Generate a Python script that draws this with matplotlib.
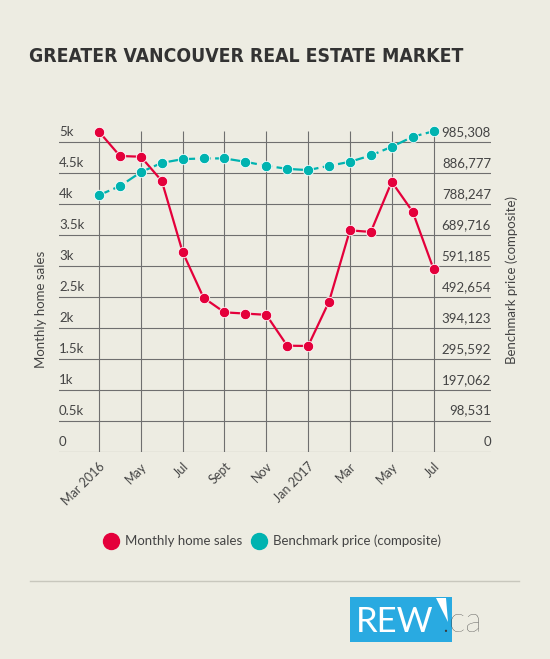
import matplotlib.pyplot as plt
import numpy as np
from matplotlib.lines import Line2D
from matplotlib.patches import Rectangle, Polygon

# data
months = ["Mar 2016", "Apr", "May", "Jun", "Jul", "Aug", "Sept", "Oct", "Nov", "Dec",
          "Jan 2017", "Feb", "Mar", "Apr", "May", "Jun", "Jul"]
sales = [5173, 4781, 4769, 4378, 3226, 2489, 2253, 2233, 2213, 1714,
         1709, 2425, 3579, 3553, 4364, 3882, 2955]
price = [817500, 846200, 890700, 920300, 932100, 934400, 934400, 923600, 910900, 901200,
         897100, 910900, 923600, 943900, 971400, 1003200, 1021100]
sales_ticks = [0, 500, 1000, 1500, 2000, 2500, 3000, 3500, 4000, 4500, 5000]
sales_labels = ["0", "0.5k", "1k", "1.5k", "2k", "2.5k", "3k", "3.5k", "4k", "4.5k", "5k"]
price_top = 985308.3

BG = "#edece2"
RED = "#e4003b"
TEAL = "#00b3b0"
GRID = "#6f6f6f"
TXT = "#444444"
FONT = ["Lato", "DejaVu Sans"]

plt.rcParams['font.family'] = FONT

W, H = 550, 659
fig = plt.figure(figsize=(W / 100, H / 100), dpi=100, facecolor=BG)

def fx(px):
    return px / W

def fy(py):
    return 1 - py / H

ax = fig.add_axes([fx(59), fy(451.7), fx(491) - fx(59), fy(131) - fy(451.7)])
ax.set_facecolor(BG)
for s in ax.spines.values():
    s.set_visible(False)

x = np.arange(len(months))
ytop = 5185
ax.set_xlim(-1.916, 18.75)
ax.set_ylim(0, ytop)

# grid
for t in sales_ticks:
    ax.axhline(t, color=GRID, lw=0.8, zorder=1)
ax.vlines(x[::2], 0, ytop, color=GRID, lw=0.8, zorder=1)

# left labels sit just above the lines
for t, lab in zip(sales_ticks, sales_labels):
    ax.annotate(lab, (-1.916, t), xytext=(0, 3), textcoords="offset points",
                ha="left", va="bottom", fontsize=9.5, color=TXT)

ax.set_xticks(x[::2])
ax.set_xticklabels(months[::2], rotation=45, ha="right", rotation_mode="anchor",
                   fontsize=9, color=TXT)
ax.tick_params(axis="x", length=0, pad=6)
ax.set_yticks([])

ax.plot(x, sales, color=RED, lw=1.6, marker="o", ms=7.5, mec="white", mew=0.6,
        zorder=4, clip_on=False)

ax2 = ax.twinx()
for s in ax2.spines.values():
    s.set_visible(False)
scale = price_top / sales_ticks[-1]
ax2.set_ylim(0, ytop * scale)
ax2.set_yticks([])
price_ticks = np.linspace(0, price_top, len(sales_ticks))
for t in price_ticks:
    ax2.annotate("{:,.0f}".format(t), (18.75, t), xytext=(0, 3), textcoords="offset points",
                 ha="right", va="bottom", fontsize=9.5, color=TXT)
ax2.plot(x, price, color=TEAL, lw=1.6, ls=(0, (5, 2)), marker="o", ms=7.5,
         mec="white", mew=0.6, zorder=4, clip_on=False)

fig.text(fx(41), fy(309), "Monthly home sales", rotation=90, ha="center", va="center",
         fontsize=9.5, color=TXT)
fig.text(fx(512), fy(280), "Benchmark price (composite)", rotation=90, ha="center",
         va="center", fontsize=9.5, color=TXT)

# title: narrowest font on hand, sized to the reference width
title = fig.text(fx(29), fy(56), "GREATER VANCOUVER REAL ESTATE MARKET",
                 family=["DejaVu Sans", "Liberation Sans"], fontstretch="condensed",
                 fontweight="bold", fontsize=20, color="#333333", ha="left",
                 va="center")
fig.canvas.draw()
tw = title.get_window_extent(fig.canvas.get_renderer()).width
title.set_fontsize(20 * 434 / tw)

handles = [Line2D([], [], ls="none", marker="o", ms=11.5, color=RED),
           Line2D([], [], ls="none", marker="o", ms=11.5, color=TEAL)]
fig.legend(handles, ["Monthly home sales", "Benchmark price (composite)"],
           loc="center", bbox_to_anchor=(fx(272), fy(541)), ncol=2, frameon=False,
           fontsize=9.5, labelcolor=TXT, handletextpad=0.5, columnspacing=0.6,
           handlelength=1.2)

fig.add_artist(Line2D([fx(30), fx(519)], [fy(581), fy(581)], color="#c8c7bd", lw=1))

# logo
fig.add_artist(Rectangle((fx(350), fy(642)), fx(452) - fx(350), fy(597) - fy(642),
                         color="#29aae1", lw=0))
fig.add_artist(Polygon([(fx(436), fy(598)), (fx(446), fy(598)), (fx(448), fy(622))],
                       color="white", lw=0))
fig.text(fx(356), fy(632), "REW", color="white", fontsize=25, ha="left", va="baseline")
fig.text(fx(441), fy(632), ".ca", color="#3a3a3a", fontsize=25, ha="left", va="baseline",
         fontweight="light")

fig.savefig("out.png", dpi=100, facecolor=BG)
